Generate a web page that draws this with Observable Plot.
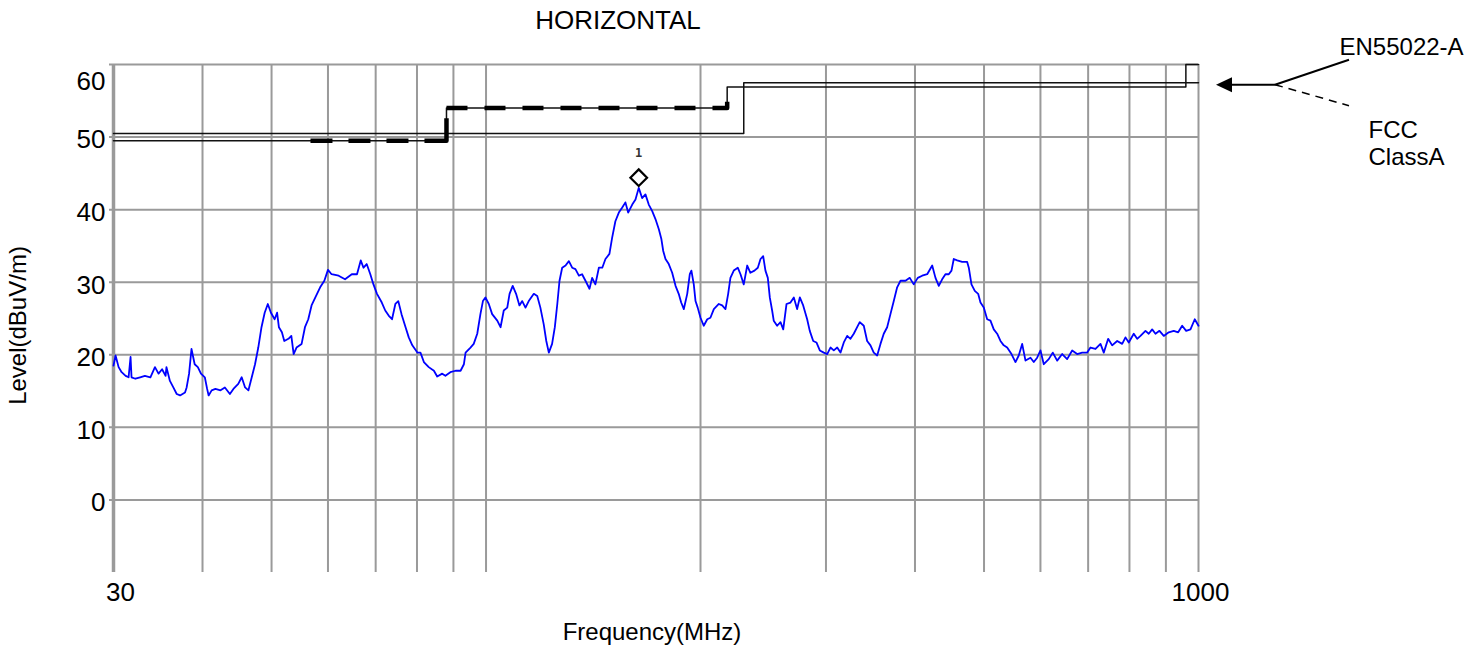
<!DOCTYPE html>
<html><head><meta charset="utf-8">
<script src="https://cdn.jsdelivr.net/npm/d3@7"></script>
<script src="https://cdn.jsdelivr.net/npm/@observablehq/plot@0.6"></script>
<style>
html,body{margin:0;padding:0;background:#fff;}
svg{display:block;}
</style></head><body><div id="chart"></div>
<script>
// ---- measured trace (MHz, dBuV/m) ----
const freqs = [30.0,30.2,30.5,30.8,31.2,31.5,31.7,31.8,32.2,32.7,33.2,33.8,34.3,34.7,35.1,35.5,35.6,36.0,36.4,36.8,37.2,37.8,38.0,38.3,38.6,39.0,39.4,39.8,40.3,40.6,40.8,41.2,41.7,42.4,43.0,43.7,44.2,44.9,45.4,45.9,46.4,46.9,47.4,47.9,48.4,48.9,49.4,49.9,50.5,50.9,51.2,51.7,52.1,52.8,53.3,53.7,54.2,55.1,55.7,56.3,56.9,57.6,58.5,59.3,60.0,60.7,62.1,63.4,64.8,65.9,66.7,67.3,68.0,68.8,69.5,70.3,71.4,72.2,
73.0,73.8,74.6,75.3,76.1,77.1,77.9,78.8,80.1,80.9,81.8,83.1,84.5,85.4,86.8,87.7,89.1,90.6,92.1,93.1,93.6,95.1,96.1,97.2,98.2,99.0,99.8,100.9,102.0,103.7,104.8,105.9,107.1,107.9,109.0,110.2,111.4,112.4,113.6,114.8,116.7,118.0,119.2,120.5,121.5,122.5,123.8,124.9,125.9,126.8,127.9,129.3,130.7,132.1,133.5,135.0,136.4,137.9,139.7,140.9,142.4,144.0,145.6,147.1,149.0,150.3,151.9,153.6,155.3,156.9,158.3,160.4,162.1,163.8,165.6,167.4,169.2,171.1,172.9,174.8,176.2,
177.3,178.6,180.5,182.5,184.5,186.4,187.9,189.5,191.6,193.2,194.2,195.7,196.8,198.2,200.0,202.1,204.4,206.5,208.8,212.2,214.5,216.8,218.7,220.3,222.7,225.6,227.6,230.0,232.6,235.0,238.1,240.7,242.8,244.9,246.7,248.6,250.2,252.1,253.4,256.2,259.0,261.3,264.1,267.5,270.4,273.3,275.7,278.7,282.3,284.7,287.9,290.9,294.1,297.9,301.2,304.4,307.7,311.1,314.4,317.8,321.3,324.7,328.2,331.8,334.6,339.0,342.7,346.4,350.1,354.0,357.8,361.6,365.6,369.5,373.5,377.6,381.7,387.9,393.3,398.4,403.6,409.4,416.1,422.9,
427.4,432.0,436.7,441.4,446.2,450.1,453.4,458.4,465.9,473.5,476.0,480.1,485.3,490.6,494.3,499.6,505.1,510.5,516.0,521.7,527.3,532.9,538.8,546.4,553.5,559.4,565.6,571.7,581.0,587.2,593.7,600.1,606.5,616.4,624.4,633.3,643.7,654.1,664.8,675.6,686.6,697.8,705.3,716.8,728.5,736.3,746.8,756.5,768.9,781.4,789.8,798.2,811.2,820.2,829.0,842.5,851.5,860.9,870.2,881.5,893.8,908.4,923.2,936.4,948.6,960.9,974.4,988.0,1000];
const levels = [18.5,19.9,18.3,17.6,17.1,16.9,19.7,16.9,16.7,16.9,17.1,16.9,18.3,17.4,18.0,17.1,18.3,16.4,15.5,14.6,14.4,14.8,15.5,17.4,20.8,18.7,18.3,17.4,16.9,15.3,14.4,15.1,15.3,15.1,15.5,14.6,15.3,16.0,16.9,15.5,15.1,16.9,18.7,21.0,23.8,25.8,27.0,25.8,24.9,25.8,23.8,23.1,21.9,22.2,22.6,20.1,21.0,21.5,23.8,24.9,26.8,27.9,29.3,30.2,31.7,31.1,30.9,30.4,31.1,31.1,33.0,32.0,32.5,31.1,29.7,28.4,27.2,26.1,
25.4,24.9,27.0,27.4,25.6,23.8,22.4,21.3,20.3,20.3,19.0,18.3,17.8,17.0,17.4,17.1,17.6,17.8,17.8,18.7,20.3,21.0,21.5,22.9,25.6,27.4,27.9,27.0,25.6,24.7,23.8,26.1,26.5,28.4,29.5,28.4,26.8,27.4,26.5,27.4,28.4,28.1,26.5,24.2,21.9,20.3,21.5,23.8,27.0,30.2,32.0,32.3,32.9,32.0,31.8,30.9,31.1,30.2,29.1,30.6,29.7,32.0,32.0,33.2,33.9,36.1,38.4,39.6,40.3,41.0,39.6,40.7,41.4,43.0,41.6,42.1,40.7,39.8,38.7,37.3,36.0,
34.3,33.2,32.5,31.3,29.5,28.4,27.2,26.3,28.4,31.1,31.6,29.7,27.4,26.5,25.1,24.0,24.9,25.1,26.3,27.0,26.8,26.3,28.4,30.6,31.6,32.0,31.1,29.7,32.3,31.3,31.6,32.0,33.2,33.6,31.6,30.6,27.9,26.1,24.7,24.0,24.5,23.5,27.0,27.2,27.9,26.3,27.9,26.8,24.9,23.3,21.9,21.7,20.6,20.3,20.1,21.0,20.6,21.0,20.3,21.7,22.6,22.2,22.9,23.8,24.5,24.0,21.9,21.3,20.3,19.9,21.5,22.9,23.8,25.6,27.4,29.3,30.2,30.2,30.6,29.7,30.6,30.9,31.1,32.3,
30.6,29.5,30.4,31.1,31.1,31.6,33.2,33.0,32.8,32.8,32.0,29.7,28.8,28.4,27.2,26.5,24.9,24.7,23.5,22.9,21.9,21.3,21.0,20.1,19.0,19.9,21.5,19.2,19.6,19.0,19.6,20.6,18.7,19.4,20.3,19.2,20.1,19.4,20.6,20.1,20.3,20.3,21.0,20.8,21.5,20.3,22.2,21.3,21.9,21.5,22.4,21.7,22.9,22.2,22.6,23.3,22.9,23.5,22.9,23.3,22.6,23.1,23.3,23.1,24.0,23.3,23.5,24.9,24.0];

// ---- grid and tick labels ----
const gridFreqs = [30,40,50,60,70,80,90,100,200,300,400,500,600,700,800,900,1000];
const gridLevels = [0,10,20,30,40,50,60];
const yTickLabels = [0,10,20,30,40,50];
const yTopLabel = [60];
const xTickLabels = [30,1000];

// ---- limit lines ----
const enFreq = [30,230,230,1000];
const enLevel = [50.5,50.5,57.5,57.5];
const fccFreq = [30,88,88,218,218,960,960,1000];
const fccLevel = [49.5,49.5,54,54,56.9,56.9,60,60];
const fccBoldAFreq = [56.7,88,88];
const fccBoldALevel = [49.5,49.5,52.6];
const fccBoldBFreq = [88,218,218];
const fccBoldBLevel = [54,54,55.2];

// ---- marker ----
const markerFreq = [163.8];
const markerLevel = [44.4];
const markerLabel = ["1"];

// ---- texts ----
const titleText = "HORIZONTAL";
const xLabel = "Frequency(MHz)";
const yLabel = "Level(dBuV/m)";
const enName = "EN55022-A";
const fccName = ["FCC", "ClassA"];

const zip = (xs, ys) => xs.map((x, i) => ({x, y: ys[i]}));
const trace = zip(freqs, levels);
const FONT = "Liberation Sans, Arial, Helvetica, sans-serif";

const annotation = (index, scales, values, dims) => {
  const g = d3.create("svg:g");
  const xr = dims.width - dims.marginRight;
  const ya = scales.y(57.15);
  const xs = xr + 77;
  g.append("line").attr("x1", xs).attr("y1", ya).attr("x2", xr + 32).attr("y2", ya)
    .attr("stroke", "#000").attr("stroke-width", 2);
  g.append("path").attr("d", `M${xr + 18},${ya}L${xr + 34},${ya - 7.5}L${xr + 34},${ya + 7.5}Z`).attr("fill", "#000");
  g.append("line").attr("x1", xs).attr("y1", ya).attr("x2", xs + 74).attr("y2", ya - 25)
    .attr("stroke", "#000").attr("stroke-width", 2);
  g.append("line").attr("x1", xs).attr("y1", ya).attr("x2", xs + 74).attr("y2", ya + 21)
    .attr("stroke", "#000").attr("stroke-width", 1.5).attr("stroke-dasharray", "8,6");
  return g.node();
};

const T = {lineAnchor: "middle"};
const plot = Plot.plot({
  width: 1483, height: 649,
  marginLeft: 113, marginRight: 285, marginTop: 64, marginBottom: 77,
  x: {type: "log", domain: [30, 1000], axis: null},
  y: {domain: [-10, 60], axis: null},
  style: {fontFamily: FONT, background: "#fff", overflow: "visible", color: "#000"},
  marks: [
    Plot.ruleY(gridLevels, {stroke: "#9a9a9a", strokeWidth: 2, insetLeft: -4}),
    Plot.ruleX(gridFreqs, {y1: -10, y2: 60, stroke: "#9a9a9a", strokeWidth: 2}),
    Plot.ruleX([30], {y1: -10, y2: 60, stroke: "#9a9a9a", strokeWidth: 3.5}),
    Plot.line(zip(enFreq, enLevel), {x: "x", y: "y", stroke: "#111", strokeWidth: 1.5}),
    Plot.line(zip(fccFreq, fccLevel), {x: "x", y: "y", stroke: "#111", strokeWidth: 1.5}),
    Plot.line(zip(fccBoldAFreq, fccBoldALevel), {x: "x", y: "y", stroke: "#000", strokeWidth: 4.5, strokeLinecap: "butt", strokeDasharray: "22,16,22,16,22,16,45,200"}),
    Plot.line(zip(fccBoldBFreq, fccBoldBLevel), {x: "x", y: "y", stroke: "#000", strokeWidth: 4.5, strokeLinecap: "butt", strokeDasharray: "21,17"}),
    Plot.line(trace, {x: "x", y: "y", stroke: "#0000ff", strokeWidth: 1.8}),
    Plot.dot(zip(markerFreq, markerLevel), {x: "x", y: "y", symbol: "diamond2", r: 7.5, stroke: "#000", strokeWidth: 2.2, fill: "#fff"}),
    Plot.text(markerLabel.map((t, i) => ({t, x: markerFreq[i], y: markerLevel[i]})), {x: "x", y: "y", text: "t", dy: -25, fontSize: 12, fontWeight: "bold", fontFamily: "DejaVu Sans Mono, monospace", fill: "#333", ...T}),
    // y tick labels
    Plot.text(yTickLabels, {y: d => d, text: d => String(d), frameAnchor: "left", dx: -8, dy: 3, textAnchor: "end", fontSize: 26, ...T}),
    Plot.text(yTopLabel, {y: d => d, text: d => String(d), frameAnchor: "left", dx: -8, dy: 17, textAnchor: "end", fontSize: 26, ...T}),
    // x tick labels
    Plot.text([xTickLabels[0]], {x: d => d, text: d => String(d), frameAnchor: "bottom", dx: 7, dy: 20, fontSize: 26, ...T}),
    Plot.text([xTickLabels[1]], {x: d => d, text: d => String(d), frameAnchor: "bottom", dx: 2, dy: 20, fontSize: 26, ...T}),
    // titles
    Plot.text([titleText], {text: d => d, frameAnchor: "top", dx: -38, dy: -44, fontSize: 26, ...T}),
    Plot.text([xLabel], {text: d => d, frameAnchor: "bottom", dx: -4, dy: 60, fontSize: 24, ...T}),
    Plot.text([yLabel], {text: d => d, frameAnchor: "left", dx: -95, dy: 7, rotate: -90, textAnchor: "middle", fontSize: 24, ...T}),
    // annotations
    Plot.text([enName], {text: d => d, frameAnchor: "top-right", dx: 141, dy: -17, textAnchor: "start", fontSize: 24, ...T}),
    Plot.text([fccName[0]], {text: d => d, frameAnchor: "top-right", dx: 170, dy: 66, textAnchor: "start", fontSize: 24, ...T}),
    Plot.text([fccName[1]], {text: d => d, frameAnchor: "top-right", dx: 170, dy: 93, textAnchor: "start", fontSize: 24, ...T}),
    annotation
  ]
});
document.getElementById("chart").appendChild(plot);
</script></body></html>
